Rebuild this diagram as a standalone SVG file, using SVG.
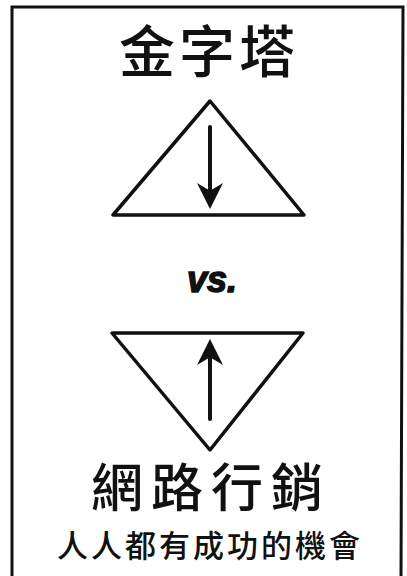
<svg xmlns="http://www.w3.org/2000/svg" width="407" height="576" viewBox="0 0 407 576">
<style>
.t{font-family:"Noto Sans CJK TC","Noto Sans CJK SC",sans-serif;fill:#111;text-anchor:middle;font-weight:500}
.shape{fill:none;stroke:#111;stroke-width:3.5;stroke-linejoin:round;stroke-linecap:round}
.arr{fill:none;stroke:#111;stroke-width:4;stroke-linecap:round}
</style>
<defs>
<marker id="ah" viewBox="0 0 10 10" refX="5" refY="5" markerWidth="6.5" markerHeight="6.5" orient="auto-start-reverse" markerUnits="strokeWidth">
<path d="M0,0 L10,5 L0,10 L3,5 Z" fill="#111"/>
</marker>
</defs>
<rect width="407" height="576" fill="#fff"/>
<path d="M12,580 L12,7 L403,7 L401,580" fill="none" stroke="#111" stroke-width="3"/>
<g id="title"><text class="t" x="209" y="72" font-size="56" letter-spacing="4">金字塔</text></g>
<g id="pyramid"><polygon class="shape" points="210,101 113,215 304,215"/></g>
<g id="vs"><text x="212" y="292" font-family="Liberation Sans, sans-serif" font-weight="bold" font-style="italic" font-size="36" text-anchor="middle" fill="#111" stroke="#111" stroke-width="1.5">vs.</text></g>
<g id="inverted"><polygon class="shape" points="112,333 303,333 210,450"/></g>
<g id="connectors">
<line class="arr" x1="210" y1="127" x2="210" y2="196" marker-end="url(#ah)"/>
<line class="arr" x1="210" y1="419" x2="210" y2="352" marker-end="url(#ah)"/>
</g>
<g id="net"><text class="t" x="211" y="507" font-size="52" letter-spacing="8">網路行銷</text></g>
<g id="sub"><text class="t" x="210" y="557" font-size="31" letter-spacing="3">人人都有成功的機會</text></g>
</svg>
